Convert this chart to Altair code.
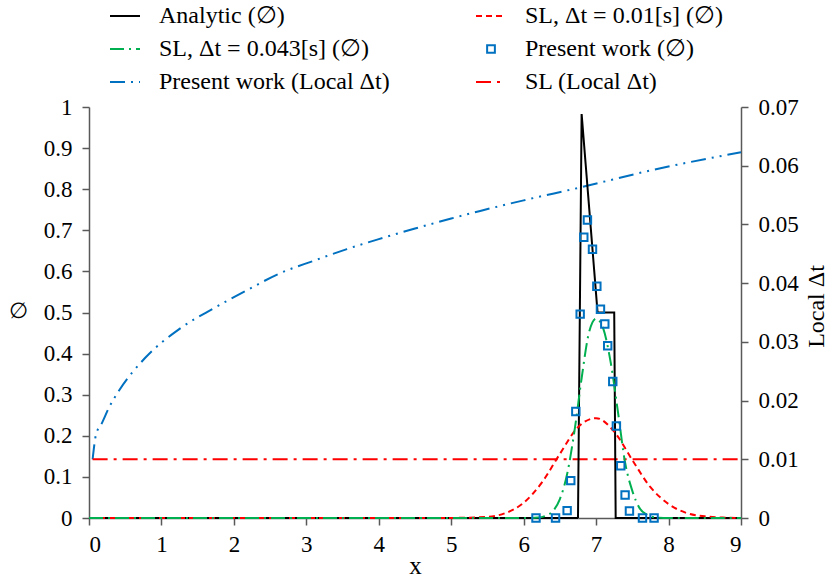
import altair as alt
import pandas as pd

# ---------------- data ----------------
S1 = "Analytic (∅)"
S2 = "SL, Δt = 0.01[s] (∅)"
S3 = "SL, Δt = 0.043[s] (∅)"
S4 = "Present work (∅)"
S5 = "Present work (Local Δt)"
S6 = "SL (Local Δt)"
series_order = [S1, S2, S3, S4, S5, S6]

x_analytic = [0, 6.75, 6.80, 7.02, 7.25, 7.27, 9]
y_analytic = [0, 0, 0.983, 0.5, 0.5, 0, 0]

x_sl01 = [0, 5.0, 5.5, 5.75, 6.0, 6.25, 6.5, 6.75, 7.0, 7.25, 7.5, 7.75, 8.0, 8.25, 8.5, 8.75, 9]
y_sl01 = [0, 0.0002, 0.003, 0.012, 0.037, 0.086, 0.156, 0.221, 0.243, 0.210, 0.141, 0.075, 0.034, 0.012, 0.004, 0.001, 0]

x_sl043 = [0, 6.0, 6.2, 6.3, 6.4, 6.5, 6.6, 6.7, 6.8, 6.9, 7.0, 7.1, 7.2, 7.3, 7.4, 7.5, 7.6, 7.7, 7.8, 8.0, 9]
y_sl043 = [0, 0, 0.001, 0.005, 0.016, 0.046, 0.107, 0.21, 0.34, 0.45, 0.485, 0.46, 0.38, 0.26, 0.135, 0.066, 0.024, 0.008, 0.002, 0, 0]

x_present = [6.17, 6.44, 6.60, 6.65, 6.72, 6.78, 6.83, 6.88, 6.95, 7.01,
             7.06, 7.12, 7.16, 7.23, 7.28, 7.34, 7.40, 7.46, 7.64, 7.80]
y_present = [0, 0, 0.018, 0.091, 0.259, 0.496, 0.683, 0.725, 0.654, 0.564,
             0.508, 0.472, 0.419, 0.332, 0.224, 0.127, 0.056, 0.017, 0, 0]

x_local_pw = [0.05, 0.10, 0.16, 0.28, 0.42, 0.77, 1.26, 1.72, 2.18, 2.64, 3.10, 3.56,
              4.0, 4.5, 5.0, 5.4, 6.0, 6.78, 7.79, 9.0]
y_local_pw = [0.01, 0.0144, 0.0157, 0.0189, 0.0218, 0.0272, 0.0323, 0.0357, 0.0388, 0.0417,
              0.0438, 0.0458, 0.0475, 0.0493, 0.0510, 0.0523, 0.0541, 0.0563, 0.0593, 0.0623]

x_local_sl = [0.05, 9.0]
y_local_sl = [0.01, 0.01]

colors = ["#000000", "#FF0000", "#00B050", "#0070C0", "#0070C0", "#FF0000"]
dashes = [[1, 0], [6, 4], [14, 5, 2, 5], [1, 0], [15, 6, 2, 6, 2, 6], [15, 6, 3, 6]]

# ---------------- tables ----------------
def frame(xs, ys, name):
    return pd.DataFrame({"x": xs, "y": ys, "series": name})

phi_lines = pd.concat([
    frame(x_analytic, y_analytic, S1).assign(order=range(len(x_analytic))),
    frame(x_sl01, y_sl01, S2).assign(order=range(len(x_sl01))),
    frame(x_sl043, y_sl043, S3).assign(order=range(len(x_sl043))),
])
pts = frame(x_present, y_present, S4)
local_lines = pd.concat([
    frame(x_local_pw, y_local_pw, S5),
    frame(x_local_sl, y_local_sl, S6),
])

FONT = "Liberation Serif, Times New Roman, DejaVu Serif, serif"
AX = dict(labelFont=FONT, labelFontSize=23, labelColor="#000000", grid=False,
          domainColor="#595959", domainWidth=1.5, tickColor="#595959", tickSize=7,
          tickWidth=1.5, titleColor="#000000", titleFontWeight="normal")

xscale = alt.Scale(domain=[0, 9], nice=False, zero=False)
xaxis = alt.Axis(values=list(range(10)), format="d", title="x", titleFontSize=25,
                 titleFont=FONT, titleY=47, titleBaseline="middle", labelPadding=8, **AX)

sq_signal = "datum.value === '" + S4 + "'"
legend = alt.Legend(
    title=None, orient="none", legendX=20, legendY=-107, columns=2, direction="horizontal",
    symbolType={"expr": sq_signal + " ? 'square' : 'stroke'"},
    symbolSize={"expr": sq_signal + " ? 60 : 900"},
    symbolStrokeWidth=2,
    labelFont=FONT, labelFontSize=24, labelColor="#000000",
    labelOffset=18, columnPadding=82, rowPadding=5, padding=0,
    labelLimit=400,
)

color = alt.Color("series:N", scale=alt.Scale(domain=series_order, range=colors), legend=legend)
dash = alt.StrokeDash("series:N", scale=alt.Scale(domain=series_order, range=dashes), legend=legend)

yleft = alt.Y("y:Q", scale=alt.Scale(domain=[0, 1], nice=False),
              axis=alt.Axis(orient="left", values=[i / 10 for i in range(11)], format=".1~f",
                            title="∅", titleAngle=0, titleX=-71, titleY=203,
                            titleAlign="center", titleBaseline="middle",
                            titleFont="DejaVu Sans", titleFontSize=22, labelPadding=10, **AX))

analytic = alt.Chart(phi_lines).transform_filter(alt.datum.series == S1).mark_line(
    strokeWidth=2, interpolate="linear").encode(
    x=alt.X("x:Q", scale=xscale, axis=xaxis), y=yleft, color=color, strokeDash=dash,
    order="order:Q")

sl_curves = alt.Chart(phi_lines).transform_filter(alt.datum.series != S1).mark_line(
    strokeWidth=2, interpolate="monotone").encode(
    x=alt.X("x:Q", scale=xscale, axis=xaxis), y=yleft, color=color, strokeDash=dash,
    order="order:Q")

points = alt.Chart(pts).mark_point(shape="square", filled=False, size=55, strokeWidth=2,
                                   opacity=1).encode(
    x=alt.X("x:Q", scale=xscale, axis=xaxis), y=yleft, color=color)

left = alt.layer(analytic, sl_curves, points)

right = alt.Chart(local_lines).mark_line(strokeWidth=2, interpolate="monotone").encode(
    x=alt.X("x:Q", scale=xscale, axis=xaxis),
    y=alt.Y("y:Q", scale=alt.Scale(domain=[0, 0.07], nice=False),
            axis=alt.Axis(orient="right", values=[i / 100 for i in range(8)], format=".2~f",
                          title="Local Δt", titleAngle=270, titleFont=FONT, titleFontSize=24,
                          titleBaseline="middle", titleAlign="center", titleX=75, titleY=199,
                          labelPadding=10, **AX)),
    color=color, strokeDash=dash)

chart = alt.layer(right, left).resolve_scale(y="independent").properties(
    width=652, height=411,
    autosize=alt.AutoSizeParams(type="none"),
    padding={"left": 89, "top": 107, "right": 87, "bottom": 63},
).configure_view(stroke=None)

chart.save("out.html", embed_options={"renderer": "svg", "actions": False})
